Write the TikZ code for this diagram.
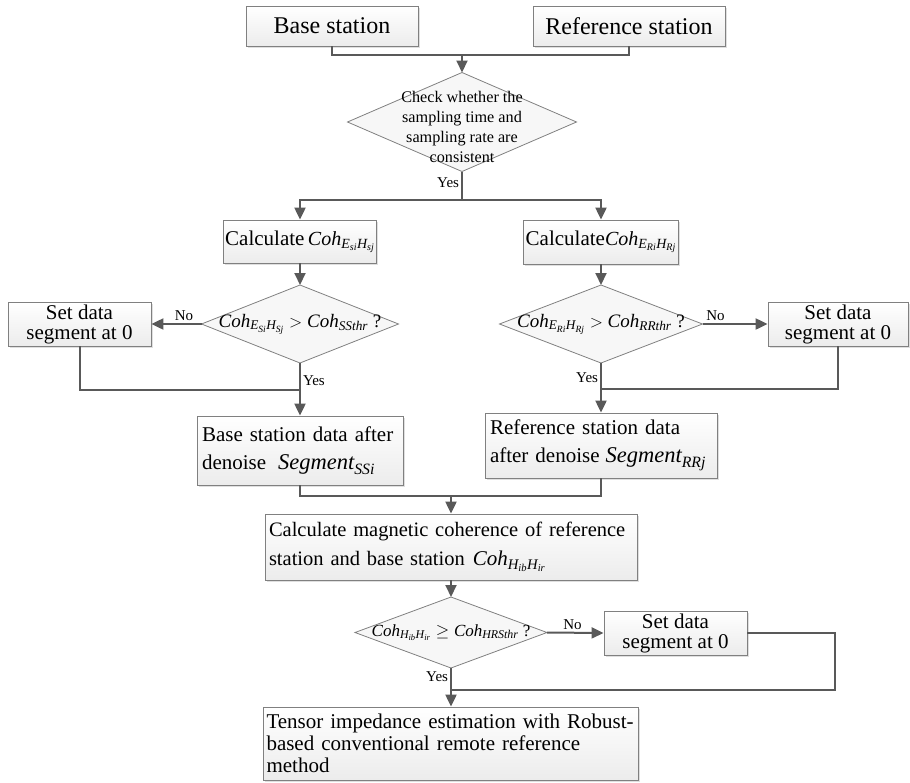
\documentclass[tikz,border=0pt]{standalone}
\usepackage{fontspec}
\setmainfont{Liberation Serif}
\usetikzlibrary{shapes.geometric,arrows.meta,shadows}

\definecolor{boxgray}{RGB}{128,128,128}
\definecolor{flowgray}{RGB}{89,89,89}
\newcommand{\fsz}[2]{\fontsize{#1pt}{#2pt}\selectfont}
\newcommand{\mi}[1]{\mathit{#1}}
\newcommand{\coh}[2]{{\fsz{#1}{#1}$\mi{Coh}_{\mi{#2}}$}}

\tikzset{
  box/.style={draw=boxgray, line width=0.8pt, top color=white, bottom color=gray!15,
    drop shadow={opacity=0.25, shadow xshift=1.5pt, shadow yshift=-1.5pt},
    inner xsep=5pt, inner ysep=2pt, font=\fsz{21}{20}, align=center},
  dia/.style={diamond, draw=boxgray, line width=0.8pt, fill=gray!6, inner sep=0pt, outer sep=0pt},
  link/.style={draw=flowgray, line width=2pt},
  flow/.style={link, -{Triangle[length=12pt, width=11pt]}},
  tag/.style={font=\fsz{15}{18}, inner sep=2pt},
}

\begin{document}
\begin{tikzpicture}[x=1pt, y=-1pt]
  \useasboundingbox (0,0) rectangle (910,782);

  % Stations.
  \node[box, font=\fsz{24}{28}, minimum width=172pt, minimum height=40pt] (base) at (332,26) {Base station};
  \node[box, font=\fsz{24}{28}, minimum width=192pt, minimum height=40pt] (ref) at (629,26) {Reference station};

  % Consistency check.
  \node[dia, minimum width=229pt, minimum height=99pt] (chk) at (462,122) {};
  \node[font=\fsz{16.2}{20}, align=center, inner sep=0pt] (chktxt) at (462,127)
    {Check whether the\\sampling time and\\sampling rate are\\consistent};

  % Coherence of each station.
  \node[box, inner xsep=2pt, minimum width=151pt, minimum height=43pt] (calcL) at (300,241.5)
    {Calculate\,\coh{20}{E_{si}H_{sj}}};
  \node[box, inner xsep=2pt, minimum width=149pt, minimum height=44pt] (calcR) at (601,242)
    {Calculate\coh{20}{E_{Ri}H_{Rj}}};

  % Thresholds.
  \node[dia, minimum width=197pt, minimum height=78pt] (dL) at (300,324) {};
  \node[inner sep=0pt] (dLtxt) at (300,324)
    {\fsz{19}{19}$\mi{Coh}_{\mi{E_{Si}H_{Sj}}} > \mi{Coh}_{\mi{SSthr}}$ ?};
  \node[dia, minimum width=203pt, minimum height=78pt] (dR) at (601,324) {};
  \node[inner sep=0pt] (dRtxt) at (601,324)
    {\fsz{19}{19}$\mi{Coh}_{\mi{E_{Ri}H_{Rj}}} > \mi{Coh}_{\mi{RRthr}}$ ?};

  % Rejected segments.
  \node[box, minimum width=143pt, minimum height=44pt] (setL) at (79.5,324) {Set data\\segment at 0};
  \node[box, minimum width=140pt, minimum height=44pt] (setR) at (838,324) {Set data\\segment at 0};

  % Denoised data.
  \node[box, align=left, font=\fsz{21}{28}, text width=196pt, minimum height=69pt] (segL) at (300,450.5)
    {\mbox{Base station data after}\\\mbox{denoise\hspace{12pt}{\fsz{22.5}{22.5}$\mi{Segment}_{\mi{SSi}}$}}};
  \node[box, align=left, font=\fsz{21}{28}, text width=222pt, minimum height=65pt] (segR) at (601,445.5)
    {\mbox{Reference station data}\\\mbox{after denoise\hspace{6pt}{\fsz{22.5}{22.5}$\mi{Segment}_{\mi{RRj}}$}}};

  % Magnetic coherence.
  \node[box, align=left, font=\fsz{20.5}{29}, text width=364pt, inner xsep=4pt, minimum height=66pt] (mag) at (451,547)
    {\mbox{Calculate magnetic coherence of reference}\\\mbox{station and base station\hspace{8pt}\coh{21}{H_{ib}H_{ir}}}};
  \node[dia, minimum width=192pt, minimum height=71pt] (d4) at (451,632.5) {};
  \node[inner sep=0pt] (d4txt) at (451,632.5)
    {\fsz{17}{17}$\mi{Coh}_{\mi{H_{ib}H_{ir}}} \geq \mi{Coh}_{\mi{HRSthr}}$ ?};
  \node[box, minimum width=143pt, minimum height=44pt] (setB) at (675.5,633) {Set data\\segment at 0};

  % Estimation.
  \node[box, align=left, font=\fsz{21}{22}, text width=369pt, inner xsep=3pt, minimum height=73pt] (est) at (451,743.5)
    {\mbox{Tensor impedance estimation with Robust-}\\based conventional remote reference\\method};

  % Merge stations.
  \coordinate (top) at (462,55);
  \draw[link] (base.south) |- (top) -| (ref.south);
  \draw[flow] (top) -- (chk.north);

  % Split to both stations.
  \coordinate (split) at (462,200);
  \draw[link] (chk.south) -- node[tag, left, pos=0.4] (yes1) {Yes} (split);
  \draw[flow] (split) -| (calcL.north);
  \draw[flow] (split) -| (calcR.north);
  \draw[flow] (calcL) -- (dL);
  \draw[flow] (calcR) -- (dR);

  % Left branch.
  \draw[flow] (dL.west) -- node[tag, above, pos=0.35] (no1) {No} (setL.east);
  \draw[flow] (dL.south) -- node[tag, right, pos=0.34] (yes2) {Yes} (segL.north);
  \coordinate (jL) at (300,390);
  \draw[link] (setL.south) |- (jL);

  % Right branch.
  \draw[flow] (dR.east) -- node[tag, above, pos=0.2] (no2) {No} (setR.west);
  \draw[flow] (dR.south) -- node[tag, left, pos=0.3] (yes3) {Yes} (segR.north);
  \coordinate (jR) at (601,389);
  \draw[link] (setR.south) |- (jR);

  % Join the denoised data.
  \coordinate (jM) at (451,496);
  \draw[link] (segL.south) |- (jM) -| (segR.south);
  \draw[flow] (jM) -- (mag.north);
  \draw[flow] (mag) -- (d4);

  % Last check.
  \draw[flow] (d4.east) -- node[tag, above, pos=0.45] (no3) {No} (setB.west);
  \draw[flow] (d4.south) -- node[tag, left, pos=0.23] (yes4) {Yes} (est.north);
  \coordinate (cB) at (835,690);
  \coordinate (jB) at (451,690);
  \draw[link] (setB.east) -| (cB) -- (jB);

\end{tikzpicture}
\end{document}
